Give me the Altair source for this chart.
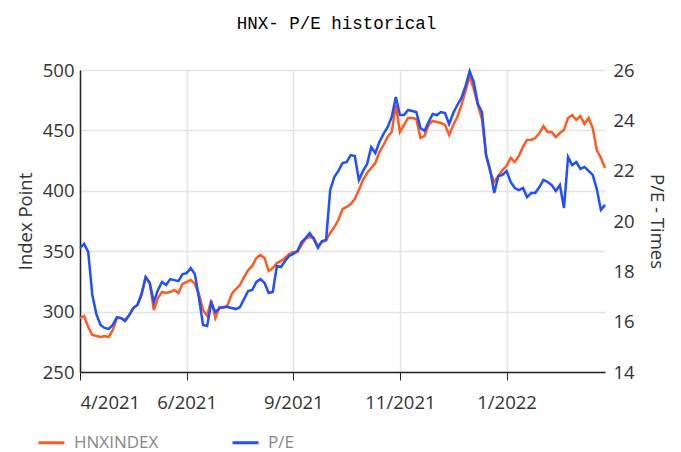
import json
import altair as alt
import pandas as pd

# HNX-Index (left axis, index points), one value per trading session
hnx = [294.7, 296.4, 287.3, 280.6, 279.8, 279.0, 279.8, 279.0, 284.8, 294.7,
       294.7, 293.0, 297.2, 303.0, 305.5, 313.7, 328.6, 323.7, 301.3, 311.3,
       316.2, 315.4, 316.2, 317.9, 315.4, 322.9, 324.5, 326.2, 322.9, 314.6,
       301.3, 296.4, 309.6, 294.7, 303.8, 303.0, 305.5, 314.6, 318.7, 322.0,
       328.6, 334.4, 337.8, 344.4, 346.9, 344.4, 333.6, 336.1, 340.2, 341.9,
       344.4, 347.7, 349.3, 349.3, 355.1, 360.1, 361.8, 360.9, 354.3, 357.6,
       359.3, 365.1, 370.0, 375.8, 384.9, 386.6, 389.1, 393.2, 400.7, 408.9,
       414.7, 418.9, 423.0, 432.1, 437.9, 444.5, 448.7, 471.0, 448.7, 454.5,
       460.3, 460.3, 459.4, 443.7, 445.4, 454.5, 457.8, 457.0, 456.1, 454.5,
       446.2, 454.5, 461.1, 471.0, 482.6, 495.0, 484.3, 471.0, 459.4, 429.6,
       415.6, 407.3, 412.3, 417.2, 420.5, 427.2, 423.8, 428.8, 436.3, 442.1,
       442.1, 443.7, 447.8, 453.6, 448.7, 448.7, 444.5, 447.8, 450.3, 460.3,
       462.7, 458.6, 461.9, 455.3, 460.3, 452.0, 433.8, 427.2, 418.9]

# P/E (right axis, times)
pe = [18.93, 19.09, 18.77, 17.06, 16.30, 15.87, 15.75, 15.71, 15.87, 16.18,
      16.14, 16.03, 16.26, 16.54, 16.66, 17.10, 17.77, 17.54, 16.78, 17.26,
      17.58, 17.46, 17.69, 17.65, 17.61, 17.89, 17.93, 18.13, 17.89, 16.94,
      15.87, 15.83, 16.74, 16.38, 16.54, 16.58, 16.58, 16.54, 16.50, 16.58,
      16.90, 17.22, 17.26, 17.58, 17.69, 17.54, 17.14, 17.18, 18.21, 18.17,
      18.41, 18.61, 18.69, 18.81, 19.16, 19.32, 19.52, 19.28, 18.93, 19.20,
      19.24, 21.23, 21.75, 21.99, 22.30, 22.34, 22.62, 22.58, 21.63, 21.99,
      22.26, 22.94, 22.70, 23.14, 23.46, 23.73, 24.13, 24.93, 24.21, 24.21,
      24.41, 24.37, 24.33, 23.70, 23.58, 23.93, 24.25, 24.21, 24.33, 24.29,
      23.85, 24.29, 24.61, 24.89, 25.36, 25.95, 25.52, 24.65, 24.33, 22.62,
      22.03, 21.11, 21.79, 21.83, 21.99, 21.55, 21.31, 21.23, 21.31, 20.95,
      21.11, 21.11, 21.35, 21.63, 21.55, 21.43, 21.19, 21.43, 20.52, 22.54,
      22.22, 22.34, 22.07, 22.15, 21.99, 21.83, 21.27, 20.44, 20.64]

tick_idx = [0, 26, 52, 78, 104]
tick_labels = ["4/2021", "6/2021", "9/2021", "11/2021", "1/2022"]
left_ticks = [250, 300, 350, 400, 450, 500]
right_ticks = [14, 16, 18, 20, 22, 24, 26]
series_names = ["HNXINDEX", "P/E"]
series_colors = ["#FF5B21", "#1F4FFF"]

df = pd.DataFrame({"i": list(range(len(hnx))), "hnx": hnx, "pe": pe})

FONT = "Open Sans"
FS = 18.5
label_expr = f"{json.dumps(tick_labels)}[indexof({json.dumps(tick_idx)}, datum.value)]"

x_enc = alt.X(
    "i:Q",
    scale=alt.Scale(domain=[0, len(hnx) - 1], nice=False, zero=False),
    axis=alt.Axis(
        title=None, values=tick_idx, labelExpr=label_expr,
        labelFont=FONT, labelFontSize=FS, labelColor="#333",
        labelPadding=13, tickSize=8, tickColor="#222", domainColor="#222",
        domainWidth=1.5, gridColor="#e4e4e4", gridWidth=1.5,
    ),
)

color_scale = alt.Scale(domain=series_names, range=series_colors)
legend = alt.Legend(
    title=None, orient="none", legendX=-43, legendY=358, direction="horizontal",
    symbolType="stroke", symbolSize=676, symbolStrokeWidth=3,
    labelFont=FONT, labelFontSize=17, labelColor="#888", labelOffset=8,
    columnPadding=67, padding=0,
)
color_enc = alt.Color("series:N", scale=color_scale, legend=legend)

orange = alt.Chart(df).transform_calculate(
    series=f"'{series_names[0]}'"
).mark_line(strokeWidth=2.5).encode(
    x=x_enc,
    y=alt.Y(
        "hnx:Q",
        scale=alt.Scale(domain=[250, 500], nice=False, zero=False),
        axis=alt.Axis(
            title="Index Point", orient="left", values=left_ticks, ticks=False,
            labelFont=FONT, labelFontSize=FS, labelColor="#333", labelPadding=6,
            titleFont=FONT, titleFontSize=FS, titleFontWeight="normal",
            titleColor="#333", titlePadding=7,
            domainColor="#222", domainWidth=1.5,
            gridColor="#e4e4e4", gridWidth=1.5,
        ),
    ),
    color=color_enc,
)

blue = alt.Chart(df).transform_calculate(
    series=f"'{series_names[1]}'"
).mark_line(strokeWidth=2.5).encode(
    x=x_enc,
    y=alt.Y(
        "pe:Q",
        scale=alt.Scale(domain=[14, 26], nice=False, zero=False),
        axis=alt.Axis(
            title="P/E - Times", orient="right", values=right_ticks, ticks=False,
            labelFont=FONT, labelFontSize=FS, labelColor="#333", labelPadding=8,
            titleFont=FONT, titleFontSize=FS, titleFontWeight="normal",
            titleColor="#333", titlePadding=12, domain=False,
            gridColor="#e4e4e4", gridWidth=1.5,
        ),
    ),
    color=color_enc,
)

chart = (
    alt.layer(orange, blue)
    .resolve_scale(y="independent")
    .properties(
        width=525, height=302,
        autosize=alt.AutoSizeParams(type="none"),
        padding={"left": 72, "top": 62, "right": 68, "bottom": 80},
        title=alt.Title(
            "HNX- P/E historical", font="Liberation Mono", fontSize=17.5,
            fontWeight="normal", color="#000", anchor="middle", frame="group",
            offset=29, dx=-6,
        ),
    )
    .configure_view(stroke=None)
)

chart.save("out.html", embed_options={"renderer": "svg", "actions": False})
